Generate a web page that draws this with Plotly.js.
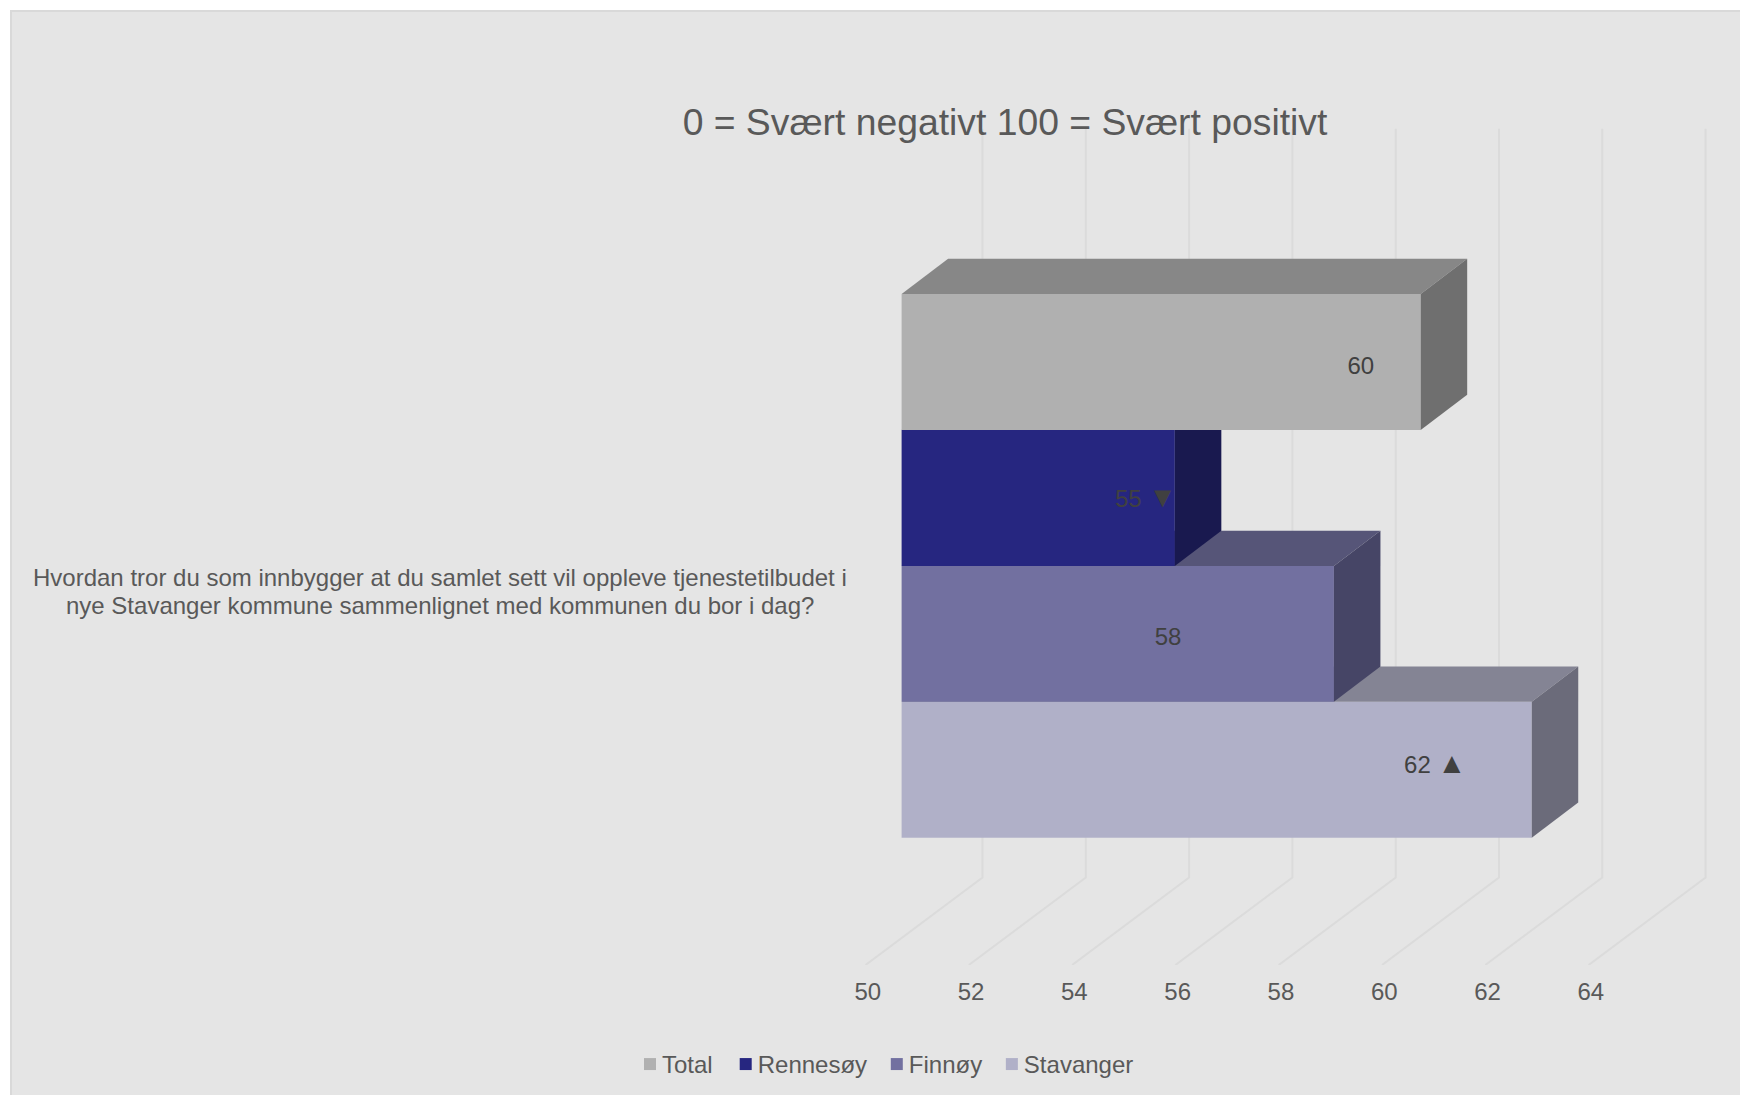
<!DOCTYPE html>
<html>
<head>
<meta charset="utf-8">
<script src="https://cdn.plot.ly/plotly-3.0.1.min.js"></script>
<style>
html,body{margin:0;padding:0;background:#fff;overflow:hidden}
#panel{position:absolute;left:10px;top:10px;right:0;bottom:0;background:#e5e5e5;border-left:2px solid #d9d9d9;border-top:2px solid #d9d9d9}
#chart{position:absolute;left:0;top:0;width:1740px;height:1095px}
</style>
</head>
<body>
<div id="panel"></div>
<div id="chart"></div>
<script>
// Data
const seriesNames  = ['Total', 'Rennesøy', 'Finnøy', 'Stavanger'];
const seriesValues = [60.05, 55.29, 58.37, 62.2];
const labelNumbers = ['60', '55', '58', '62'];
const labelMarks   = ['', '▼', '', '▲'];
const labelValueX  = [58.89, 54.73, 55.16, 60.33];
const labelBandY   = [0.042, 0.02, 0.037, -0.024];
const frontColors  = ['#b0b0b0', '#262680', '#7270a0', '#b0b0c8'];
const topColors    = ['#878787', '#1a1a50', '#565578', '#848494'];
const sideColors   = ['#6f6f6f', '#19194f', '#464566', '#6b6b7a'];
const tickValues   = [50, 52, 54, 56, 58, 60, 62, 64];
const tickLabels   = ['50', '52', '54', '56', '58', '60', '62', '64'];
const chartTitle   = '0 = Svært negativt 100 = Svært positivt';
const questionLines = [
  'Hvordan tror du som innbygger at du samlet sett vil oppleve tjenestetilbudet i',
  'nye Stavanger kommune sammenlignet med kommunen du bor i dag?'
];

// Axis geometry
const baseValue = 50;
const floorRange = [33.2, 66.888];
const barRange   = [32.544, 66.232];
const bandRange  = [4.436, -2.663];
const barDepthX = 0.9, barDepthY = 0.259;
const gridOffset = -0.043, floorDepthX = 2.265, floorY = 4.436, floorBackY = 3.793, wallTopY = -1.715;
const textFont = 'Liberation Sans, Arial, sans-serif';

const traces = [];

// Walls and floor gridlines
const gx = [], gy = [];
tickValues.forEach(v => {
  gx.push(v + gridOffset, v + gridOffset + floorDepthX, v + gridOffset + floorDepthX, null);
  gy.push(floorY, floorBackY, wallTopY, null);
});
traces.push({type:'scatter', mode:'lines', x:gx, y:gy, xaxis:'x', yaxis:'y',
  line:{color:'#dbdbdb', width:2}, hoverinfo:'skip', showlegend:false});

// Bars painted back to front: bottom series first
[3, 2, 1, 0].forEach((i, layer) => {
  const ax = 'x' + (layer + 2);
  const v = seriesValues[i], top = i - 0.5, bot = i + 0.5;
  traces.push({type:'bar', orientation:'h', name:seriesNames[i], x:[v - baseValue], base:[baseValue], y:[i], width:[1],
    xaxis:ax, yaxis:'y', marker:{color:frontColors[i], line:{width:0}}, legendrank:i + 1, hoverinfo:'name+x'});
  traces.push({type:'scatter', mode:'lines', fill:'toself', xaxis:ax, yaxis:'y',
    x:[baseValue, v, v + barDepthX, baseValue + barDepthX, baseValue],
    y:[top, top, top - barDepthY, top - barDepthY, top],
    fillcolor:topColors[i], line:{width:0, color:topColors[i]}, hoverinfo:'skip', showlegend:false});
  traces.push({type:'scatter', mode:'lines', fill:'toself', xaxis:ax, yaxis:'y',
    x:[v, v + barDepthX, v + barDepthX, v, v],
    y:[top, top - barDepthY, bot - barDepthY, bot, top],
    fillcolor:sideColors[i], line:{width:0, color:sideColors[i]}, hoverinfo:'skip', showlegend:false});
});

// Value labels on top of everything
const valueLabels = labelNumbers.map((n, i) => labelMarks[i]
  ? n + ' <span style="font-size:29px">' + labelMarks[i] + '</span>' : n);
traces.push({type:'scatter', mode:'text', x:labelValueX, y:labelBandY.map((d, i) => i + d), text:valueLabels,
  textposition:'middle center', textfont:{family:textFont, size:24, color:'#404040'},
  xaxis:'x6', yaxis:'y', hoverinfo:'skip', showlegend:false});

const overlayAxis = {overlaying:'x', anchor:'y', range:barRange, visible:false, fixedrange:true};
const questionFont = {family:textFont, size:24, color:'#595959'};
const layout = {
  width:1740, height:1095,
  margin:{l:0, r:0, t:0, b:129.5, pad:0},
  paper_bgcolor:'rgba(0,0,0,0)', plot_bgcolor:'rgba(0,0,0,0)',
  font:{family:textFont, color:'#595959', size:24},
  title:{text:chartTitle, font:{family:textFont, size:37.3, color:'#595959'},
    xref:'paper', yref:'container', x:1005/1740, xanchor:'center', y:1 - 122/1095, yanchor:'middle'},
  xaxis:{range:floorRange, tickmode:'array', tickvals:tickValues, ticktext:tickLabels, showgrid:false, zeroline:false, showline:false,
    ticks:'outside', ticklen:5, tickcolor:'rgba(0,0,0,0)', tickfont:{family:textFont, size:24, color:'#595959'}, fixedrange:true},
  xaxis2:overlayAxis, xaxis3:overlayAxis, xaxis4:overlayAxis, xaxis5:overlayAxis, xaxis6:overlayAxis,
  yaxis:{range:bandRange, visible:false, fixedrange:true},
  showlegend:true,
  legend:{orientation:'h', xref:'paper', x:630/1740, xanchor:'left', yref:'paper', y:(965.5 - 1042.5)/965.5, yanchor:'top',
    font:{family:textFont, size:24, color:'#595959'}, bgcolor:'rgba(0,0,0,0)', traceorder:'normal'},
  annotations:questionLines.map((line, i) => ({xref:'paper', yref:'paper', x:440/1740, y:1 - (578 + i * 28)/965.5,
    xanchor:'center', yanchor:'middle', align:'center', showarrow:false, text:line, font:questionFont}))
};
Plotly.newPlot('chart', traces, layout, {displayModeBar:false}).then(gd => {
  // Tighter legend: keys closer to their text, as in the reference
  gd.querySelectorAll('.legend .traces').forEach((g, k) => {
    const t = g.querySelector('.legendtext');
    if (t) t.setAttribute('x', 32);
    const m = /translate\(([-\d.]+),\s*([-\d.]+)\)/.exec(g.getAttribute('transform') || '');
    if (m) g.setAttribute('transform', 'translate(' + (parseFloat(m[1]) - Math.max(0, k - 1) * 3.3) + ',' + m[2] + ')');
  });
});
</script>
</body>
</html>
